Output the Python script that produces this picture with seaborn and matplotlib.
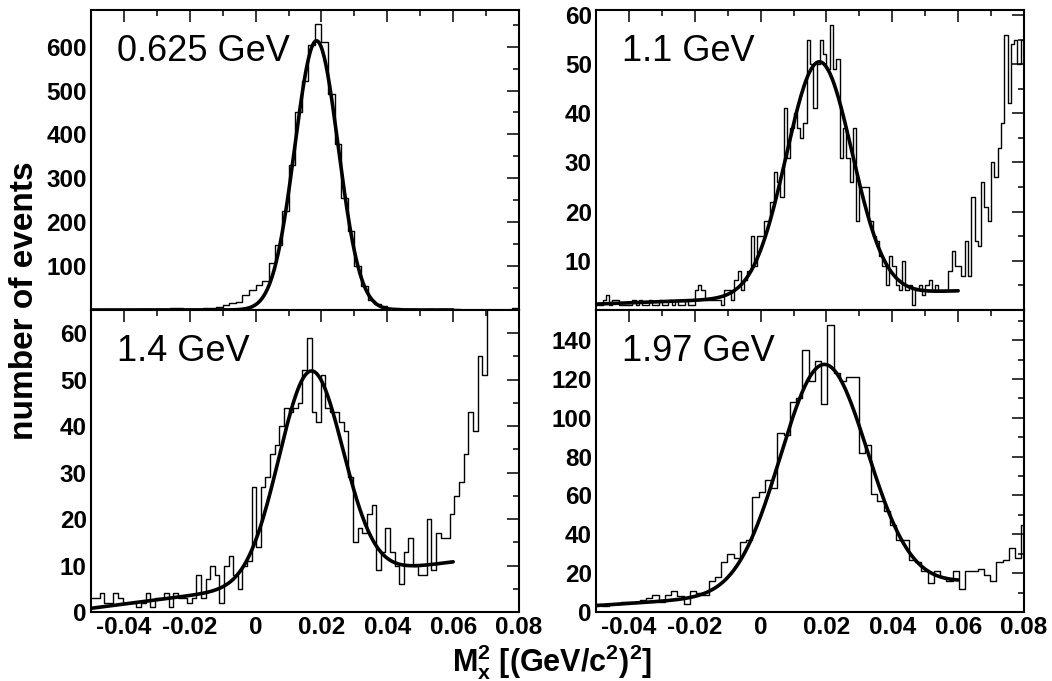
import numpy as np
import pandas as pd
import seaborn as sns
import matplotlib.pyplot as plt
from matplotlib.ticker import MultipleLocator, FuncFormatter

# beam energies shown in each panel
labels = ["0.625 GeV", "1.1 GeV", "1.4 GeV", "1.97 GeV"]

# histogram binning per panel (first edge, bin width)
bin_start = [-0.05, -0.05, -0.0502, -0.05]
bin_width = [0.002, 0.001, 0.0014, 0.0019]

# events per bin
counts_0625 = [1, 1, 2, 1, 2, 2, 2, 3, 3, 2, 3, 3, 5, 5, 4, 3, 4, 5, 6, 8,
               13, 18, 20, 36, 47, 58, 67, 108, 149, 227, 331, 452, 522, 604, 651, 611, 492, 378, 255, 180,
               100, 55, 24, 15, 9, 6, 5, 4, 3, 3, 2, 3, 2, 3, 2, 4, 2, 2, 1, 2,
               2, 1, 2, 2, 6]
counts_110 = [1, 1, 2, 3, 1, 2, 2, 1, 1, 1, 1, 2, 1, 2, 1, 1, 2, 1, 1, 2,
              1, 1, 2, 1, 2, 1, 1, 2, 1, 1, 4, 5, 4, 2, 2, 2, 2, 2, 1, 4,
              4, 2, 6, 8, 4, 6, 8, 15, 9, 15, 15, 18, 18, 22, 28, 26, 23, 41, 31, 37,
              40, 37, 35, 38, 55, 50, 41, 50, 55, 52, 49, 58, 49, 51, 31, 37, 31, 26, 37, 18,
              25, 25, 25, 18, 15, 14, 11, 9, 5, 11, 9, 5, 4, 10, 4, 5, 1, 4, 5, 3,
              5, 6, 4, 5, 4, 4, 4, 8, 12, 9, 9, 7, 14, 7, 23, 14, 13, 26, 21, 18,
              30, 27, 33, 38, 56, 42, 54, 55, 50, 55]
counts_140 = [3, 3, 4, 2, 2, 4, 3, 2, 2, 2, 1, 2, 4, 1, 3, 3, 4, 1, 4, 3,
              3, 2, 3, 8, 3, 7, 10, 8, 2, 10, 12, 8, 5, 10, 11, 27, 14, 27, 29, 34,
              36, 40, 44, 43, 44, 45, 52, 59, 43, 41, 51, 44, 43, 43, 41, 39, 29, 15, 18, 17,
              21, 23, 9, 13, 18, 13, 10, 6, 13, 16, 10, 8, 8, 20, 9, 17, 16, 16, 21, 25,
              28, 34, 43, 39, 55, 51, 75, 90, 105, 120, 135, 150, 160]
counts_197 = [4, 3, 4, 4, 5, 5, 5, 6, 7, 9, 5, 9, 11, 8, 4, 11, 10, 9, 16, 18,
              26, 30, 28, 36, 37, 59, 62, 68, 64, 92, 91, 108, 110, 135, 119, 129, 107, 148, 123, 119,
              121, 121, 82, 86, 61, 57, 52, 45, 37, 37, 27, 26, 21, 15, 21, 18, 16, 21, 12, 21,
              21, 22, 19, 16, 26, 27, 33, 28, 45]
all_counts = [counts_0625, counts_110, counts_140, counts_197]

# fitted gaussian + linear background
fit_mean = [0.0185, 0.0178, 0.0168, 0.0192]
fit_sigma = [0.0066, 0.0100, 0.0097, 0.0132]
fit_amp = [612, 47.6, 45.0, 116.5]
fit_bg_lo = [1.0, 1.2, 0.8, 3.3]     # at M_x^2 = -0.05
fit_bg_hi = [1.0, 3.9, 10.8, 15.5]   # at M_x^2 = 0.06
fit_range = (-0.05, 0.06)

# axis ranges / y ticks
y_min = [1, 0, 0, 0]
y_max = [683, 61, 65, 155.5]
y_step = [100, 10, 10, 20]
y_first = [100, 10, 0, 0]

sns.set_style("white")
plt.rcParams["font.family"] = ["Liberation Sans", "DejaVu Sans"]
plt.rcParams["font.weight"] = "bold"
plt.rcParams["text.color"] = "black"
plt.rcParams["mathtext.fontset"] = "custom"
plt.rcParams["mathtext.rm"] = "Liberation Sans:bold"
plt.rcParams["mathtext.bf"] = "Liberation Sans:bold"
plt.rcParams["mathtext.it"] = "Liberation Sans:bold"
plt.rcParams["mathtext.default"] = "bf"

fig = plt.figure(figsize=(10.52, 6.81), dpi=100)
boxes = [(91 / 1052, 0.5448, 428 / 1052, 0.4405),
         (596 / 1052, 0.5448, 428 / 1052, 0.4405),
         (91 / 1052, 0.1013, 428 / 1052, 0.4435),
         (596 / 1052, 0.1013, 428 / 1052, 0.4435)]

xfmt = FuncFormatter(lambda v, p: "0" if abs(v) < 1e-9 else "%.2f" % v)

for i, counts in enumerate(all_counts):
    ax = fig.add_axes(boxes[i])
    edges = [bin_start[i] + bin_width[i] * k for k in range(len(counts) + 1)]
    centers = [0.5 * (a + b) for a, b in zip(edges[:-1], edges[1:])]
    df = pd.DataFrame({"mx2": centers, "n": counts})
    sns.histplot(data=df, x="mx2", weights="n", bins=edges, element="step",
                 fill=False, color="black", linewidth=1.0, ax=ax)

    xf = np.linspace(fit_range[0], fit_range[1], 400)
    bg = fit_bg_lo[i] + (fit_bg_hi[i] - fit_bg_lo[i]) * (xf - fit_range[0]) / (fit_range[1] - fit_range[0])
    yf = bg + fit_amp[i] * np.exp(-0.5 * ((xf - fit_mean[i]) / fit_sigma[i]) ** 2)
    sns.lineplot(x=xf, y=yf, color="black", linewidth=2.6, ax=ax)

    ax.set_xlim(-0.05, 0.08)
    ax.set_ylim(y_min[i], y_max[i])
    ax.set_xlabel("")
    ax.set_ylabel("")
    ax.xaxis.set_major_locator(MultipleLocator(0.02))
    ax.xaxis.set_minor_locator(MultipleLocator(0.01))
    ax.xaxis.set_major_formatter(xfmt)
    ax.set_yticks(np.arange(y_first[i], y_max[i], y_step[i]))
    ax.yaxis.set_minor_locator(MultipleLocator(y_step[i] / 2))
    ax.tick_params(which="both", direction="in", top=True, right=True,
                   width=1.1, colors="black", labelsize=17.5, pad=3)
    ax.tick_params(which="major", length=8.6)
    ax.tick_params(which="minor", length=4.3)
    if i < 2:
        ax.tick_params(labelbottom=False)
    for s in ax.spines.values():
        s.set_linewidth(1.5)
        s.set_color("black")

    ax.text(0.06, 0.83, labels[i], transform=ax.transAxes, fontsize=26,
            fontweight="normal", color="black", va="baseline", ha="left")

fig.text(0.023, 0.559, "number of events", rotation=90, fontsize=24,
         fontweight="bold", color="black", ha="center", va="center")
fig.text(0.525, 0.0136, r"$M_x^2$ [(GeV/c$^2$)$^2$]", fontsize=22,
         fontweight="bold", color="black", ha="center", va="baseline")

fig.savefig("out.png", dpi=100)
